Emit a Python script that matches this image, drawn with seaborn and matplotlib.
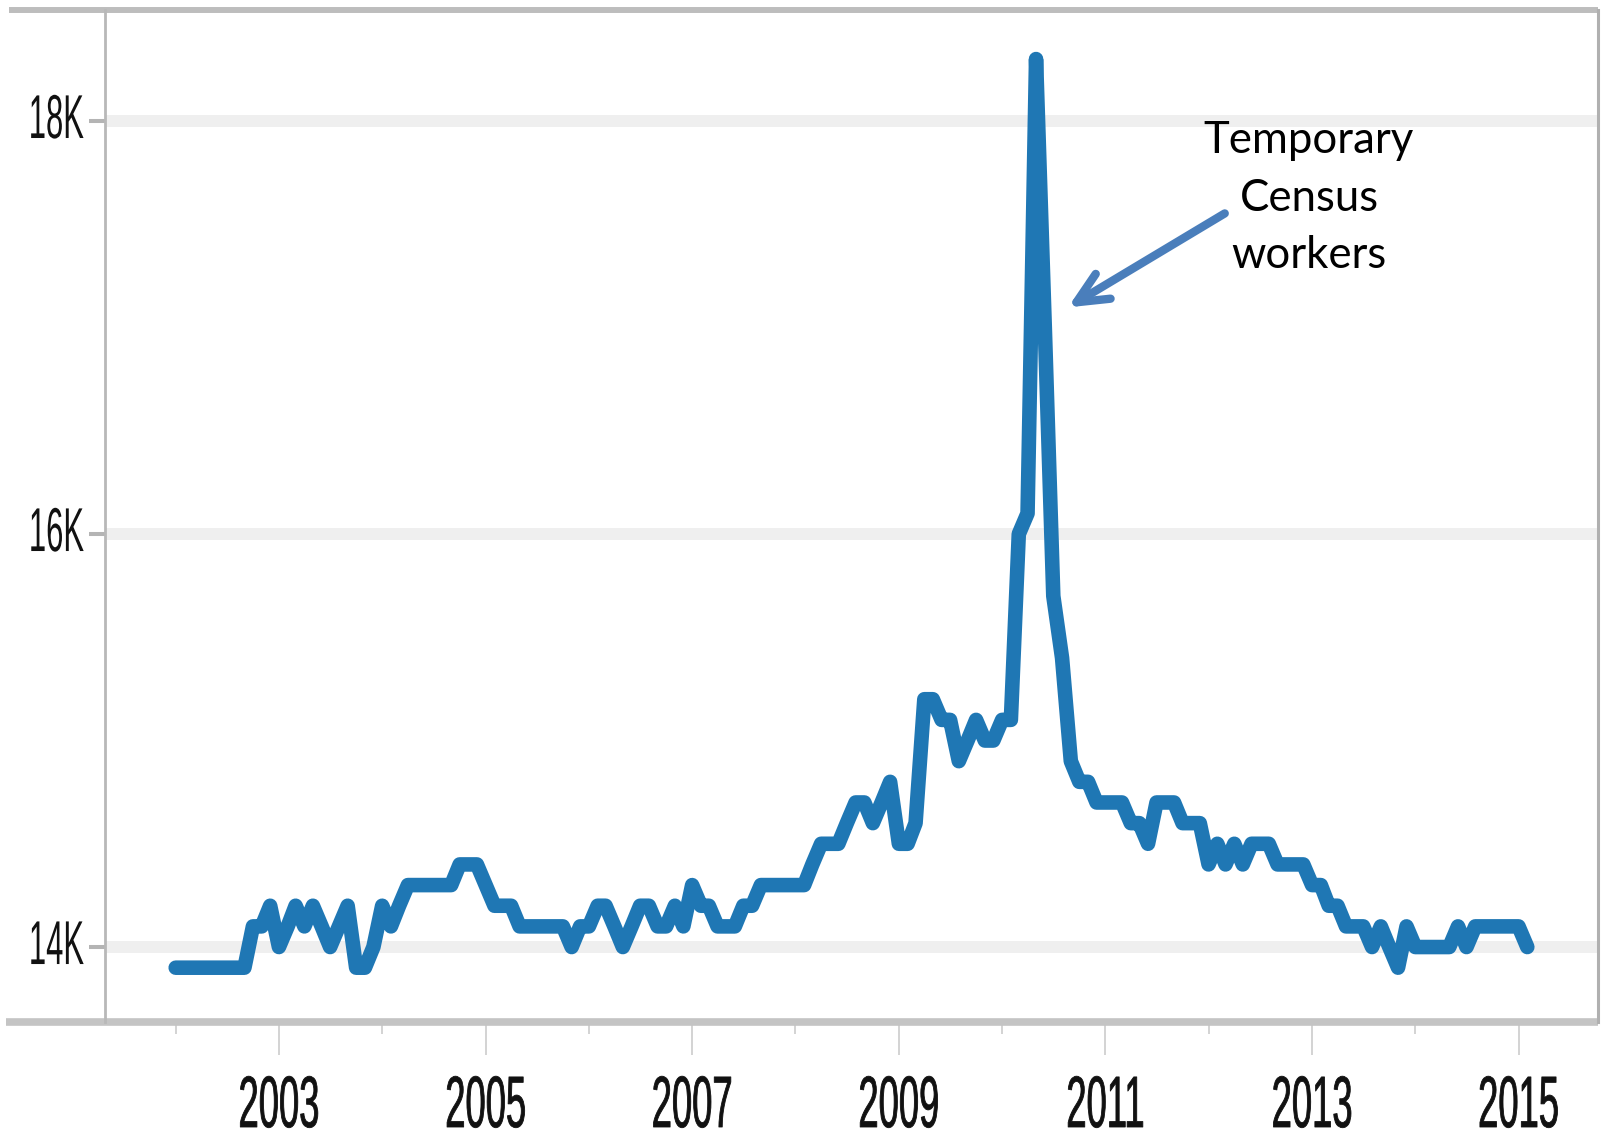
"""Monthly employment line with the 2010 temporary Census hiring spike."""

import matplotlib
matplotlib.use("Agg")
import matplotlib.pyplot as plt
import matplotlib.patheffects as pe
from matplotlib import font_manager
from matplotlib.transforms import Affine2D
import pandas as pd
import seaborn as sns

# ---- data (monthly, Jan 2002 .. Feb 2015) ----
START_MONTH = "2002-01-01"
EMPLOYMENT = [
    13900, 13900, 13900, 13900, 13900, 13900, 13900, 13900, 13900, 14100, 14100, 14200,  # 2002
    14000, 14100, 14200, 14100, 14200, 14100, 14000, 14100, 14200, 13900, 13900, 14000,  # 2003
    14200, 14100, 14200, 14300, 14300, 14300, 14300, 14300, 14300, 14400, 14400, 14400,  # 2004
    14300, 14200, 14200, 14200, 14100, 14100, 14100, 14100, 14100, 14100, 14000, 14100,  # 2005
    14100, 14200, 14200, 14100, 14000, 14100, 14200, 14200, 14100, 14100, 14200, 14100,  # 2006
    14300, 14200, 14200, 14100, 14100, 14100, 14200, 14200, 14300, 14300, 14300, 14300,  # 2007
    14300, 14300, 14400, 14500, 14500, 14500, 14600, 14700, 14700, 14600, 14700, 14800,  # 2008
    14500, 14500, 14600, 15200, 15200, 15100, 15100, 14900, 15000, 15100, 15000, 15000,  # 2009
    15100, 15100, 16000, 16100, 18300, 17000, 15700, 15400, 14900, 14800, 14800, 14700,  # 2010
    14700, 14700, 14700, 14600, 14600, 14500, 14700, 14700, 14700, 14600, 14600, 14600,  # 2011
    14400, 14500, 14400, 14500, 14400, 14500, 14500, 14500, 14400, 14400, 14400, 14400,  # 2012
    14300, 14300, 14200, 14200, 14100, 14100, 14100, 14000, 14100, 14000, 13900, 14100,  # 2013
    14000, 14000, 14000, 14000, 14000, 14100, 14000, 14100, 14100, 14100, 14100, 14100,  # 2014
    14100, 14000,                                                                        # 2015
]
MAJOR_YEARS = [2003, 2005, 2007, 2009, 2011, 2013, 2015]
MINOR_YEARS = [2002, 2004, 2006, 2008, 2010, 2012, 2014]
Y_TICKS = [14000, 16000, 18000]
Y_LABELS = ["14K", "16K", "18K"]
NOTE = "Temporary\nCensus\nworkers"

LINE_BLUE = "#1f77b4"
ARROW_BLUE = "#4a7ebb"


class Stretch(pe.AbstractPathEffect):
    """Stretch glyphs vertically about the baseline (the source uses tall condensed type)."""

    def __init__(self, sy, dy=0.0, stroke=0.0):
        super().__init__()
        self.sy = sy
        self.dy = dy          # pixels, positive = up
        self.stroke = stroke  # outline width in points, thickens thin glyphs

    def draw_path(self, renderer, gc, tpath, affine, rgbFace=None):
        affine = Affine2D().scale(1, self.sy) + affine + Affine2D().translate(0, self.dy)
        gc0 = renderer.new_gc()
        gc0.copy_properties(gc)
        if self.stroke and rgbFace is not None:
            gc0.set_linewidth(self.stroke)
            gc0.set_foreground(rgbFace)
        renderer.draw_path(gc0, tpath, affine, rgbFace)
        gc0.restore()


installed = {f.name for f in font_manager.fontManager.ttflist}
if "Liberation Sans Narrow" in installed:
    tick_family, x_size, y_size, stretch = "Liberation Sans Narrow", 32, 27, 1.64
else:
    tick_family, x_size, y_size, stretch = "Liberation Sans", 26.2, 22.3, 2.0

sns.set_theme(style="white")
plt.rcParams["font.family"] = ["DejaVu Sans"]

df = pd.DataFrame({
    "month": pd.date_range(START_MONTH, periods=len(EMPLOYMENT), freq="MS"),
    "employment": EMPLOYMENT,
})

fig, ax = plt.subplots(figsize=(16.01, 11.35), dpi=100)
fig.subplots_adjust(left=105 / 1601, right=1598 / 1601, bottom=1 - 1022 / 1135, top=1 - 9.5 / 1135)

sns.lineplot(data=df, x="month", y="employment", ax=ax, color=LINE_BLUE, linewidth=10.5,
             solid_capstyle="round", solid_joinstyle="round", zorder=3)

ax.set_xlim(pd.Timestamp("2001-04-26"), pd.Timestamp("2015-10-09"))
ax.set_ylim(13637, 18540)
ax.set_xlabel("")
ax.set_ylabel("")

# gridlines: thick pale bands
ax.yaxis.grid(True, color="#efefef", linewidth=8.6)
ax.xaxis.grid(False)
ax.set_axisbelow(True)

# ticks
ax.set_xticks(pd.to_datetime([f"{y}-01-01" for y in MAJOR_YEARS]), labels=[str(y) for y in MAJOR_YEARS])
ax.set_xticks(pd.to_datetime([f"{y}-01-01" for y in MINOR_YEARS]), minor=True)
ax.set_yticks(Y_TICKS, labels=Y_LABELS)
ax.tick_params(axis="x", which="major", bottom=True, direction="out", length=23.8, width=1.1,
               color="#c8c8c8", pad=51.8, labelsize=x_size, labelcolor="#111111")
ax.tick_params(axis="x", which="minor", bottom=True, direction="out", length=8.6, width=1.1,
               color="#c8c8c8")
ax.tick_params(axis="y", left=True, direction="out", length=11.5, width=2.9, color="#b4b4b4",
               pad=3.6, labelsize=y_size, labelcolor="#111111")
for lbl in ax.get_xticklabels():
    lbl.set_family([tick_family, "DejaVu Sans"])
    lbl.set_va("baseline")
    lbl.set_path_effects([Stretch(stretch, stroke=0.6)])
for lbl in ax.get_yticklabels():
    lbl.set_family([tick_family, "DejaVu Sans"])
    lbl.set_va("baseline")
    lbl.set_path_effects([Stretch(stretch, dy=-17)])

# frame: side spines plus top/bottom rules that run past the y axis
ax.spines[["top", "bottom"]].set_visible(False)
ax.spines["left"].set_color("#b8b8b8")
ax.spines["left"].set_linewidth(2)
ax.spines["right"].set_color("#b0b0b0")
ax.spines["right"].set_linewidth(2.2)
ax.plot([-0.0643, 1], [1, 1], transform=ax.transAxes, color="#bdbdbd", lw=4.3,
        clip_on=False, solid_capstyle="butt")
ax.plot([-0.0663, 1], [0, 0], transform=ax.transAxes, color="#c4c4c4", lw=5.5,
        clip_on=False, solid_capstyle="butt")

# annotation
ax.annotate("", xy=(0.645, 0.7058), xytext=(0.750, 0.7986), xycoords="axes fraction",
            arrowprops=dict(arrowstyle="->,head_length=0.56,head_width=0.26", color=ARROW_BLUE,
                            lw=6, shrinkA=0, shrinkB=0, mutation_scale=40))
ax.text(0.8064, 0.8134, NOTE, transform=ax.transAxes, ha="center", va="center", fontsize=31.5,
        family=["Lato", "DejaVu Sans"], linespacing=1.5, color="black")

fig.savefig("out.png", dpi=100)
